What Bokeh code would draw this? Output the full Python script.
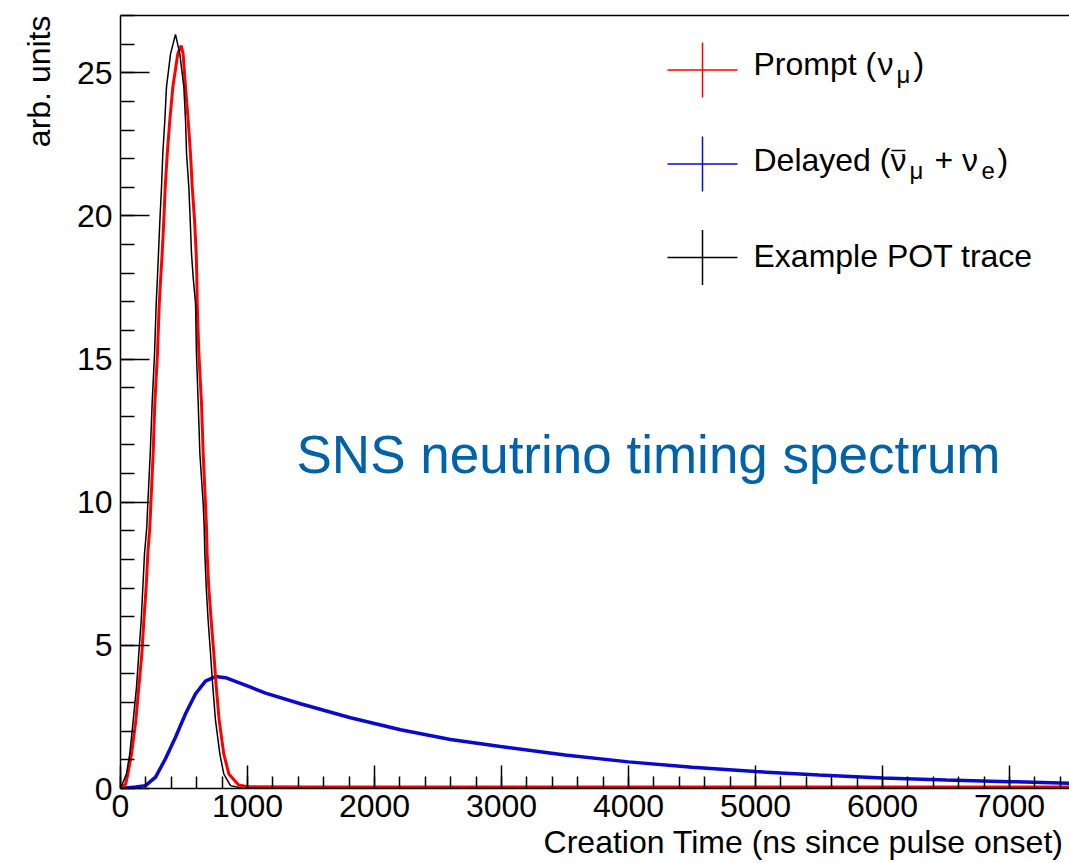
from bokeh.plotting import figure
from bokeh.models import Label, SingleIntervalTicker, LinearAxis, Range1d, FixedTicker, Title
from bokeh.embed import file_html
from bokeh.resources import INLINE

# ---------------- data ----------------
pot_t = [0, 47, 73, 100, 126, 144, 163, 176, 189, 207, 215, 234, 249, 268, 281, 291, 299, 310,
         323, 333, 349, 362, 394, 433, 467, 499, 512, 520, 538, 549, 559, 572, 591, 598, 612,
         625, 651, 659, 664, 675, 690, 709, 727, 748, 782, 813, 866, 950, 1100, 7472]
pot_v = [0, 0.51, 1.21, 2.38, 3.54, 4.70, 5.87, 7.03, 8.20, 9.13, 9.94, 11.69, 13.44, 15.18,
         16.93, 17.86, 18.69, 19.84, 21.0, 22.17, 23.33, 24.5, 25.66, 26.34, 25.66, 24.5, 23.33,
         22.17, 21.0, 19.84, 18.69, 17.86, 16.93, 15.18, 13.44, 11.69, 9.94, 9.13, 8.20, 7.03,
         5.87, 4.70, 3.54, 2.38, 1.21, 0.51, 0.1, 0.02, 0, 0]

prompt_t = [0, 40, 58, 87, 121, 144, 168, 184, 202, 215, 231, 239, 257, 270, 291, 305, 317, 328,
            341, 352, 368, 388, 412, 451, 478, 493, 512, 533, 551, 565, 583, 596, 601, 604, 617,
            638, 651, 669, 677, 682, 695, 714, 735, 754, 777, 813, 853, 930, 1000, 1500, 7472]
prompt_v = [0, 0.15, 0.51, 1.21, 2.38, 3.54, 4.70, 5.87, 7.03, 8.20, 9.13, 9.94, 11.69, 13.44,
            15.18, 16.93, 17.86, 18.69, 19.84, 21.0, 22.17, 23.33, 24.5, 25.66, 25.95, 25.66,
            24.5, 23.33, 22.17, 21.0, 19.84, 18.69, 17.86, 16.93, 15.18, 13.44, 11.69, 9.94, 9.13,
            8.20, 7.03, 5.87, 4.70, 3.54, 2.38, 1.21, 0.51, 0.12, 0.06, 0.05, 0.05]

delayed_t = [0, 118, 197, 276, 354, 433, 512, 591, 669, 748, 827, 1024, 1142, 1417, 1811, 2205,
             2598, 2992, 3500, 4000, 4500, 5000, 5500, 6000, 6500, 7000, 7472]
delayed_v = [0, 0.05, 0.1, 0.4, 1.04, 1.79, 2.61, 3.31, 3.75, 3.91, 3.87, 3.54, 3.33, 2.96, 2.47,
             2.05, 1.71, 1.47, 1.17, 0.93, 0.74, 0.59, 0.47, 0.37, 0.30, 0.24, 0.18]

legend_colors = ["#ff0000", "#0a0acc", "#000000"]
x_title = "Creation Time (ns since pulse onset)"
y_title = "arb. units"
annotation = "SNS neutrino timing spectrum"

X_MAX, Y_MAX = 7472, 27
FONT = "Liberation Sans"

# ---------------- layout helpers (pixel -> data) ----------------
L, R, T, B = 120, 1069, 15, 788
def dx(px):
    return (px - L) / (R - L) * X_MAX
def dy(py):
    return (B - py) / (B - T) * Y_MAX

p = figure(width=1069, height=863, output_backend="svg", toolbar_location=None,
           x_range=Range1d(0, X_MAX), y_range=Range1d(0, Y_MAX),
           min_border_left=L, min_border_right=0, min_border_top=T, min_border_bottom=863 - B,
           x_axis_type=None, y_axis_type=None)
p.outline_line_color = None
p.grid.visible = False
p.background_fill_color = "white"
p.border_fill_color = "white"

xaxis = LinearAxis(ticker=SingleIntervalTicker(interval=1000, num_minor_ticks=5))
yaxis = LinearAxis(ticker=SingleIntervalTicker(interval=5, num_minor_ticks=5))
for ax, tin, min_in, stand in ((xaxis, 23, 12, 6), (yaxis, 29, 14, 8)):
    ax.major_tick_in = tin
    ax.major_tick_out = 0
    ax.minor_tick_in = min_in
    ax.minor_tick_out = 0
    ax.axis_line_width = 1.5
    ax.major_tick_line_width = 1.5
    ax.minor_tick_line_width = 1.5
    ax.major_label_text_font = FONT
    ax.major_label_text_font_size = "32px"
    ax.major_label_text_color = "black"
    ax.major_label_standoff = stand
p.add_layout(xaxis, "below")
p.add_layout(yaxis, "left")
top = LinearAxis(ticker=FixedTicker(ticks=[]), axis_line_width=1.5,
                 major_tick_in=0, major_tick_out=0, minor_tick_in=0, minor_tick_out=0,
                 major_label_text_font_size="0px")
p.add_layout(top, "above")

# axis titles as side-panel titles (right / top aligned like the reference)
p.add_layout(Title(text=x_title, align="right", offset=6, standoff=5, text_font=FONT,
                   text_font_size="32px", text_font_style="normal", text_color="black"), "below")
p.add_layout(Title(text=y_title, align="right", offset=0, standoff=33, text_font=FONT,
                   text_font_size="32px", text_font_style="normal", text_color="black"), "left")

# ---------------- curves ----------------
p.line(delayed_t, delayed_v, line_color=legend_colors[1], line_width=3.5)
p.line(prompt_t, prompt_v, line_color=legend_colors[0], line_width=3)
p.line(pot_t, pot_v, line_color=legend_colors[2], line_width=1.5)

# ---------------- legend (manual) ----------------
cross_cy = [69.5, 163.5, 257]
base_y = [75, 171, 267]
for cy, col in zip(cross_cy, legend_colors):
    p.segment(x0=[dx(667)], y0=[dy(cy)], x1=[dx(737)], y1=[dy(cy)], line_color=col, line_width=1.5)
    p.segment(x0=[dx(702)], y0=[dy(cy - 27.5)], x1=[dx(702)], y1=[dy(cy + 27.5)], line_color=col, line_width=1.5)

BASE_FIX = 0.35  # empirical shift of the svg alphabetic baseline (in em)

def lab(text, px, py, size=32, color="black", align="left"):
    p.add_layout(Label(x=dx(px), y=dy(py - BASE_FIX * size), text=text, text_font=FONT,
                       text_font_size=f"{size}px", text_color=color, text_align=align,
                       text_baseline="alphabetic"))

# entry 1: Prompt (nu_mu)
lab("Prompt (", 753, base_y[0])
lab("\u03bd", 877, base_y[0])
lab("\u03bc", 896, base_y[0] + 7, size=24)
lab(")", 913, base_y[0])
# entry 2: Delayed (nubar_mu + nu_e)
lab("Delayed (", 753, base_y[1])
lab("\u03bd", 890, base_y[1])
p.segment(x0=[dx(891)], y0=[dy(150)], x1=[dx(905)], y1=[dy(150)], line_color="black", line_width=1.5)
lab("\u03bc", 909, base_y[1] + 7, size=24)
lab("+ \u03bd", 934, base_y[1])
lab("e", 981, base_y[1] + 7, size=24)
lab(")", 997, base_y[1])
# entry 3
lab("Example POT trace", 753, base_y[2])

# ---------------- annotation ----------------
lab(annotation, 296, 473, size=53, color="#0062a9")

open("out.html", "w").write(file_html(p, INLINE))
